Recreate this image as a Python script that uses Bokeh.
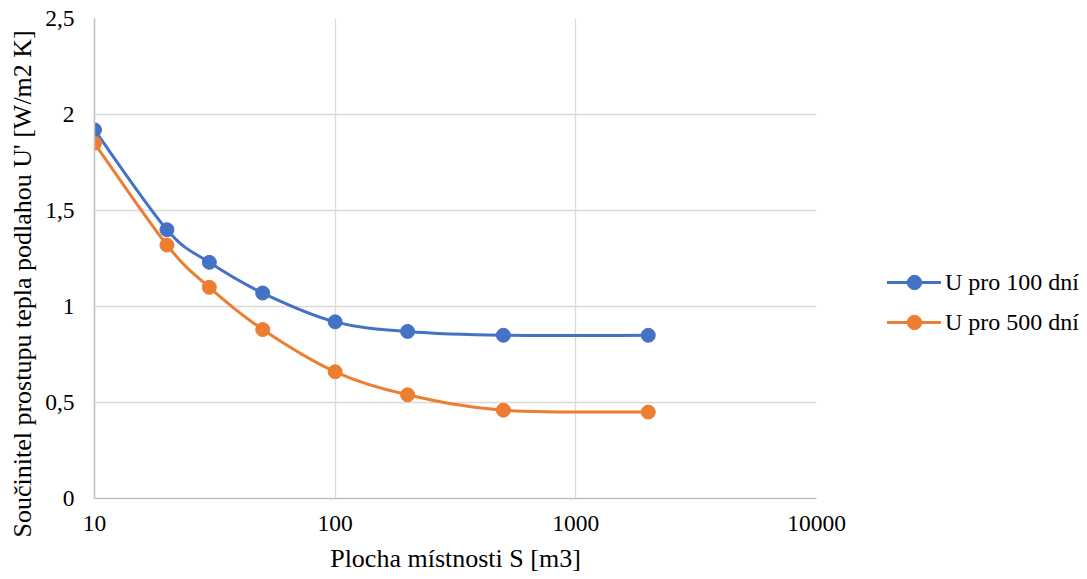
import numpy as np
from bokeh.plotting import figure
from bokeh.models import Range1d, FixedTicker, Legend, LegendItem, Title
from bokeh.embed import file_html
from bokeh.resources import INLINE

# ---- data ----
area = [10, 20, 30, 50, 100, 200, 500, 2000]
u_100 = [1.92, 1.40, 1.23, 1.07, 0.92, 0.87, 0.85, 0.85]
u_500 = [1.85, 1.32, 1.10, 0.88, 0.66, 0.54, 0.46, 0.45]
series_names = ["U pro 100 dní", "U pro 500 dní"]
series_colors = ["#4472C4", "#ED7D31"]
y_ticks = [0, 0.5, 1, 1.5, 2, 2.5]
y_tick_labels = ["0", "0,5", "1", "1,5", "2", "2,5"]
x_ticks = [10, 100, 1000, 10000]
x_tick_labels = ["10", "100", "1000", "10000"]
x_title = "Plocha místnosti S [m3]"
y_title = "Součinitel prostupu tepla podlahou U' [W/m2 K]"

FONT = "Liberation Serif"
TICK_FS = "23.5px"
TITLE_FS = "26px"
LEG_FS = "24px"

p = figure(frame_width=722, frame_height=480, x_axis_type="log",
           x_range=Range1d(10, 10000), y_range=Range1d(0, 2.5),
           output_backend="svg", toolbar_location=None,
           min_border_left=94, min_border_right=0,
           min_border_top=18, min_border_bottom=81)
p.outline_line_color = None
p.background_fill_color = "white"
p.border_fill_color = "white"


def smooth_segments(xs, ys):
    """Catmull-Rom style Bezier control points in (log10 x, y) space."""
    u = np.log10(np.array(xs, dtype=float))
    v = np.array(ys, dtype=float)
    n = len(u)
    seg = dict(x0=[], y0=[], x1=[], y1=[], cx0=[], cy0=[], cx1=[], cy1=[])
    for i in range(n - 1):
        i0 = max(i - 1, 0)
        i3 = min(i + 2, n - 1)
        c1u = u[i] + (u[i + 1] - u[i0]) / 6
        c1v = v[i] + (v[i + 1] - v[i0]) / 6
        c2u = u[i + 1] - (u[i3] - u[i]) / 6
        c2v = v[i + 1] - (v[i3] - v[i]) / 6
        seg["x0"].append(10 ** u[i]); seg["y0"].append(v[i])
        seg["x1"].append(10 ** u[i + 1]); seg["y1"].append(v[i + 1])
        seg["cx0"].append(10 ** c1u); seg["cy0"].append(c1v)
        seg["cx1"].append(10 ** c2u); seg["cy1"].append(c2v)
    return seg


items = []
for name, ys, col in zip(series_names, [u_100, u_500], series_colors):
    seg = smooth_segments(area, ys)
    lr = p.bezier(x0=seg["x0"], y0=seg["y0"], x1=seg["x1"], y1=seg["y1"],
                  cx0=seg["cx0"], cy0=seg["cy0"], cx1=seg["cx1"], cy1=seg["cy1"],
                  line_color=col, line_width=3, line_cap="round")
    sr = p.scatter(x=area, y=ys, size=14, marker="circle",
                   fill_color=col, line_color=col, line_width=1)
    items.append(LegendItem(label=name, renderers=[lr, sr]))

legend = Legend(items=items, location=(71, 158),
                glyph_width=54, glyph_height=36, spacing=4,
                label_standoff=4, padding=0, margin=0,
                border_line_color=None, background_fill_alpha=0,
                label_text_font=FONT, label_text_font_size=LEG_FS,
                label_text_color="black")
p.add_layout(legend, "right")

# axes
for ax in (p.xaxis[0], p.yaxis[0]):
    ax.major_tick_in = 0
    ax.major_tick_out = 0
    ax.minor_tick_in = 0
    ax.minor_tick_out = 0
    ax.axis_line_color = "#bfbfbf"
    ax.axis_line_width = 1.5
    ax.major_label_text_font = FONT
    ax.major_label_text_font_size = TICK_FS
    ax.major_label_text_color = "black"
    ax.axis_label_text_font = FONT
    ax.axis_label_text_font_size = TITLE_FS
    ax.axis_label_text_font_style = "normal"
    ax.axis_label_text_color = "black"

p.xaxis.ticker = FixedTicker(ticks=x_ticks)
p.xaxis.major_label_overrides = {float(t): l for t, l in zip(x_ticks, x_tick_labels)}
p.xaxis.major_label_standoff = 17
p.xaxis.axis_label = x_title
p.xaxis.axis_label_standoff = 10

p.yaxis.ticker = FixedTicker(ticks=y_ticks)
p.yaxis.major_label_overrides = {float(t): l for t, l in zip(y_ticks, y_tick_labels)}
p.yaxis.major_label_standoff = 20

# y-axis title as a left-side Title (starts a little below the frame bottom)
ytitle = Title(text=y_title, align="left", offset=-39, vertical_align="middle",
               standoff=10, text_font=FONT, text_font_size=TITLE_FS,
               text_font_style="normal", text_color="black")
p.add_layout(ytitle, "left")

p.xgrid.ticker = FixedTicker(ticks=x_ticks)
p.ygrid.ticker = FixedTicker(ticks=y_ticks)
p.xgrid.grid_line_color = "#d9d9d9"
p.ygrid.grid_line_color = "#d9d9d9"
p.xgrid.grid_line_width = 1.3
p.ygrid.grid_line_width = 1.3

open("out.html", "w").write(file_html(p, INLINE))
